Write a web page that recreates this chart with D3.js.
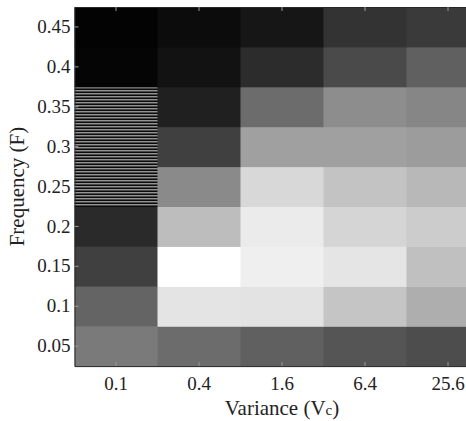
<!DOCTYPE html>
<html><head><meta charset="utf-8">
<script src="https://cdn.jsdelivr.net/npm/d3@7"></script>
<style>html,body{margin:0;padding:0;background:#fff;overflow:hidden}
svg text{font-family:"Liberation Serif","Times New Roman",serif !important;}</style>
</head><body>
<svg id="chart" width="466" height="421"></svg>
<script>
// Data
const variances = ["0.1", "0.4", "1.6", "6.4", "25.6"];
const frequencies = ["0.05", "0.1", "0.15", "0.2", "0.25", "0.3", "0.35", "0.4", "0.45"];
// gray intensity (0 black .. 255 white), rows listed from 0.05 up to 0.45; null = striped/undefined cell
const row005 = [122, 108, 96, 85, 77];
const row010 = [100, 228, 227, 197, 174];
const row015 = [64, 255, 239, 229, 192];
const row020 = [42, 189, 235, 213, 204];
const row025 = [null, 138, 216, 195, 184];
const row030 = [null, 64, 160, 160, 156];
const row035 = [null, 32, 108, 141, 134];
const row040 = [5, 18, 44, 74, 96];
const row045 = [3, 12, 22, 51, 58];
const grid = [row005, row010, row015, row020, row025, row030, row035, row040, row045];

const svg = d3.select("#chart");
const plotLeft = 74.5, plotTop = 7, cellW = 83, cellH = 39.9;
const plotW = cellW * variances.length, plotH = cellH * frequencies.length;

const x = d3.scaleBand().domain(variances).range([plotLeft, plotLeft + plotW]);
const y = d3.scaleBand().domain(frequencies).range([plotTop + plotH, plotTop]);

const defs = svg.append("defs");
const pat = defs.append("pattern").attr("id", "stripes").attr("patternUnits", "userSpaceOnUse")
  .attr("width", 8).attr("height", 3);
pat.append("rect").attr("x", 0).attr("y", 0).attr("width", 8).attr("height", 1).attr("fill", "#939393");
pat.append("rect").attr("x", 0).attr("y", 1).attr("width", 8).attr("height", 1).attr("fill", "#4a4a4a");
pat.append("rect").attr("x", 0).attr("y", 2).attr("width", 8).attr("height", 1).attr("fill", "#0c0c0c");

const cells = [];
grid.forEach((row, i) => row.forEach((v, j) => cells.push({f: frequencies[i], v: variances[j], val: v})));

svg.append("g").selectAll("rect").data(cells).join("rect")
  .attr("x", d => x(d.v)).attr("y", d => y(d.f))
  .attr("width", x.bandwidth() + 0.5).attr("height", y.bandwidth() + 0.5)
  .attr("fill", d => d.val === null ? "url(#stripes)" : d3.rgb(d.val, d.val, d.val));

const axisColor = "#262626";

const xb = svg.append("g").attr("transform", `translate(0,${plotTop + plotH})`)
  .call(d3.axisBottom(x).tickSizeInner(-4).tickSizeOuter(0).tickPadding(10));
const xt = svg.append("g").attr("transform", `translate(0,${plotTop})`)
  .call(d3.axisTop(x).tickSizeInner(-4).tickSizeOuter(0).tickFormat(""));
const yl = svg.append("g").attr("transform", `translate(${plotLeft},0)`)
  .call(d3.axisLeft(y).tickSizeInner(-4).tickSizeOuter(0).tickPadding(4));

[xb, xt, yl].forEach(g => {
  g.attr("font-family", null);
  g.select(".domain").attr("stroke", axisColor).attr("stroke-width", 1);
  g.selectAll(".tick line").attr("stroke", "#999").attr("stroke-width", 1);
  g.selectAll(".tick text").attr("font-size", 19).attr("fill", "#222");
});

const xt2 = svg.append("text").attr("x", plotLeft + 2 * cellW + cellW / 2).attr("y", 415)
  .attr("text-anchor", "middle").attr("font-size", 21).attr("fill", "#222");
xt2.append("tspan").text("Variance (V");
xt2.append("tspan").attr("font-size", 15).text("c");
xt2.append("tspan").text(")");

svg.append("text").attr("transform", `translate(24,${plotTop + plotH / 2}) rotate(-90)`)
  .attr("text-anchor", "middle").attr("font-size", 21).attr("fill", "#222")
  .text("Frequency (F)");
</script>
</body></html>
